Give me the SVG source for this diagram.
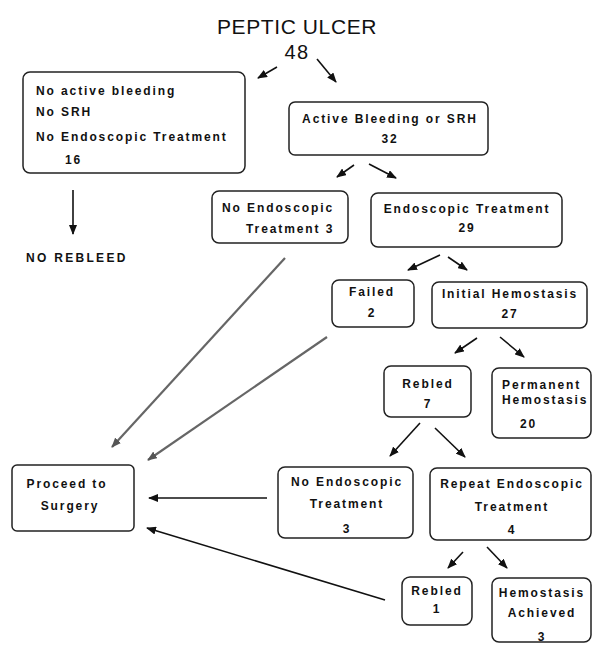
<svg xmlns="http://www.w3.org/2000/svg" width="592" height="645" viewBox="0 0 592 645">
<style>
.box{fill:#fff;stroke:#222;stroke-width:1.5}
.t{font-family:"Liberation Sans",Arial,sans-serif;font-weight:bold;font-size:12px;letter-spacing:1.9px;fill:#111}
.m{text-anchor:middle}
.title{font-family:"Liberation Sans",Arial,sans-serif;font-size:21px;letter-spacing:0.6px;fill:#111;text-anchor:middle}
.c{stroke:#111;stroke-width:1.6;fill:none;marker-end:url(#ah)}
.g{stroke:#666;stroke-width:2.2;fill:none;marker-end:url(#ahg)}
</style>
<defs>
<marker id="ah" markerUnits="userSpaceOnUse" markerWidth="10" markerHeight="8" refX="9" refY="4" orient="auto"><path d="M0,0 L10,4 L0,8 z" fill="#111"/></marker>
<marker id="ahg" markerUnits="userSpaceOnUse" markerWidth="10" markerHeight="8" refX="9" refY="4" orient="auto"><path d="M0,0 L10,4 L0,8 z" fill="#555"/></marker>
</defs>
<rect width="592" height="645" fill="#fff"/>
<g id="title">
<text class="title" x="297" y="34">PEPTIC ULCER</text>
<text class="title" x="297" y="59" style="font-size:20px;letter-spacing:1.5px">48</text>
</g>
<g id="connectors">
<line class="c" x1="277" y1="67" x2="258" y2="78"/>
<line class="c" x1="317" y1="59" x2="336" y2="82"/>
<line class="c" x1="73" y1="190" x2="73" y2="234"/>
<line class="c" x1="354" y1="165" x2="337" y2="177"/>
<line class="c" x1="369" y1="164" x2="396" y2="178"/>
<line class="c" x1="440" y1="255" x2="408" y2="270"/>
<line class="c" x1="448" y1="257" x2="467" y2="270"/>
<line class="c" x1="477" y1="338" x2="455" y2="353"/>
<line class="c" x1="500" y1="337" x2="524" y2="357"/>
<line class="c" x1="420" y1="423" x2="390" y2="456"/>
<line class="c" x1="435" y1="428" x2="465" y2="457"/>
<line class="c" x1="463" y1="552" x2="448" y2="568"/>
<line class="c" x1="487" y1="547" x2="507" y2="568"/>
<line class="g" x1="285" y1="258" x2="112" y2="447"/>
<line class="g" x1="327" y1="337" x2="148" y2="460"/>
<line class="c" x1="267" y1="498" x2="149" y2="498"/>
<line class="c" x1="385" y1="600" x2="147" y2="528"/>
</g>
<g id="no-active">
<rect class="box" x="23" y="72" width="222" height="101" rx="7"/>
<text class="t" x="36" y="95">No active bleeding</text>
<text class="t" x="36" y="116">No SRH</text>
<text class="t" x="36" y="141">No Endoscopic Treatment</text>
<text class="t" x="65" y="164">16</text>
</g>
<g id="no-rebleed">
<text class="t" x="26" y="262" style="letter-spacing:2.3px">NO REBLEED</text>
</g>
<g id="active">
<rect class="box" x="289" y="102" width="199" height="53" rx="6"/>
<text class="t m" x="390" y="123">Active Bleeding or SRH</text>
<text class="t m" x="390" y="143">32</text>
</g>
<g id="no-endo-1">
<rect class="box" x="212" y="191" width="136" height="52" rx="7"/>
<text class="t" x="222" y="212">No Endoscopic</text>
<text class="t" x="246" y="233">Treatment 3</text>
</g>
<g id="endo">
<rect class="box" x="371" y="193" width="191" height="54" rx="7"/>
<text class="t m" x="467" y="213">Endoscopic Treatment</text>
<text class="t m" x="467" y="232">29</text>
</g>
<g id="failed">
<rect class="box" x="332" y="280" width="82" height="47" rx="7"/>
<text class="t m" x="372" y="296">Failed</text>
<text class="t m" x="372" y="317">2</text>
</g>
<g id="initial">
<rect class="box" x="432" y="282" width="155" height="46" rx="7"/>
<text class="t m" x="510" y="298">Initial Hemostasis</text>
<text class="t m" x="510" y="318">27</text>
</g>
<g id="rebled-7">
<rect class="box" x="384" y="366" width="87" height="51" rx="7"/>
<text class="t m" x="428" y="388">Rebled</text>
<text class="t m" x="428" y="408">7</text>
</g>
<g id="permanent">
<rect class="box" x="492" y="368" width="99" height="70" rx="7"/>
<text class="t" x="502" y="389">Permanent</text>
<text class="t" x="502" y="404">Hemostasis</text>
<text class="t" x="520" y="428">20</text>
</g>
<g id="surgery">
<rect class="box" x="12" y="465" width="122" height="66" rx="5"/>
<text class="t m" x="67" y="488">Proceed to</text>
<text class="t m" x="70" y="510">Surgery</text>
</g>
<g id="no-endo-2">
<rect class="box" x="278" y="467" width="135" height="71" rx="7"/>
<text class="t m" x="347" y="486">No Endoscopic</text>
<text class="t m" x="347" y="508">Treatment</text>
<text class="t m" x="347" y="533">3</text>
</g>
<g id="repeat">
<rect class="box" x="430" y="468" width="161" height="72" rx="7"/>
<text class="t m" x="512" y="488">Repeat Endoscopic</text>
<text class="t m" x="512" y="511">Treatment</text>
<text class="t m" x="512" y="534">4</text>
</g>
<g id="rebled-1">
<rect class="box" x="402" y="577" width="70" height="48" rx="8"/>
<text class="t m" x="437" y="595">Rebled</text>
<text class="t m" x="437" y="613">1</text>
</g>
<g id="hemostasis-achieved">
<rect class="box" x="492" y="578" width="99" height="64" rx="7"/>
<text class="t m" x="542" y="597">Hemostasis</text>
<text class="t m" x="542" y="617">Achieved</text>
<text class="t m" x="542" y="641">3</text>
</g>
</svg>
